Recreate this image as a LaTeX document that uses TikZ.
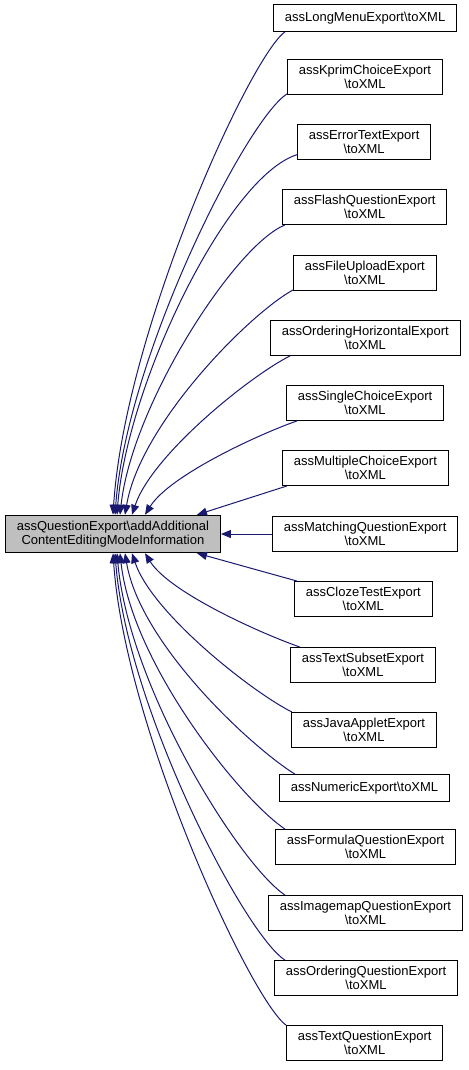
\documentclass[tikz,border=0pt]{standalone}
\usepackage{fontspec}
\setmainfont{Liberation Sans}
\usetikzlibrary{arrows.meta,calc}
\definecolor{edgeblue}{RGB}{25,25,112}
\definecolor{maingray}{RGB}{191,191,191}
\begin{document}
\begin{tikzpicture}[x=0.75pt,y=-0.75pt,
  fn/.style={draw=black,line width=0.75pt,fill=white,anchor=west,align=center,inner xsep=8.5pt,inner ysep=4.5pt,minimum height=20pt,font=\fontsize{9.75}{10}\selectfont},
  callee/.style={fn,fill=maingray},
  edge/.style={draw=edgeblue,line width=0.75pt,-{Triangle[length=7.5pt,width=6pt]}}]
\useasboundingbox (0,0) rectangle (468,1070);
\node[callee] (main) at (5,534) {assQuestionExport\textbackslash addAdditional\\ContentEditingModeInformation};
\node[fn] (longmenu) at (273,18) {assLongMenuExport\textbackslash toXML};
\node[fn] (kprim) at (287,77) {assKprimChoiceExport\\\textbackslash toXML};
\node[fn] (errortext) at (297,142) {assErrorTextExport\\\textbackslash toXML};
\node[fn] (flash) at (282,207) {assFlashQuestionExport\\\textbackslash toXML};
\node[fn] (fileupload) at (293,273) {assFileUploadExport\\\textbackslash toXML};
\node[fn] (orderh) at (270,338) {assOrderingHorizontalExport\\\textbackslash toXML};
\node[fn] (single) at (286,403) {assSingleChoiceExport\\\textbackslash toXML};
\node[fn] (multiple) at (282,468) {assMultipleChoiceExport\\\textbackslash toXML};
\node[fn] (matching) at (272,534) {assMatchingQuestionExport\\\textbackslash toXML};
\node[fn] (cloze) at (294,599) {assClozeTestExport\\\textbackslash toXML};
\node[fn] (textsubset) at (290,665) {assTextSubsetExport\\\textbackslash toXML};
\node[fn] (javaapplet) at (291,730) {assJavaAppletExport\\\textbackslash toXML};
\node[fn] (numeric) at (279,788) {assNumericExport\textbackslash toXML};
\node[fn] (formula) at (275,847) {assFormulaQuestionExport\\\textbackslash toXML};
\node[fn] (imagemap) at (268,913) {assImagemapQuestionExport\\\textbackslash toXML};
\node[fn] (orderq) at (274,978) {assOrderingQuestionExport\\\textbackslash toXML};
\node[fn] (textq) at (286,1043) {assTextQuestionExport\\\textbackslash toXML};
\draw[edge] ($(longmenu.south west)+(12,0)$) .. controls +(-35,25) and +(12,-184) .. ($(main.north west)+(108,0)$);
\draw[edge] ($(kprim.south west)+(0,-1)$) .. controls +(-40,25) and +(12,-160) .. ($(main.north west)+(110,0)$);
\draw[edge] ($(errortext.south west)+(0,-5)$) .. controls +(-70,22) and +(10,-130) .. ($(main.north west)+(112,0)$);
\draw[edge] ($(flash.south west)+(3,0)$) .. controls +(-50,20) and +(12,-110) .. ($(main.north west)+(115,0)$);
\draw[edge] ($(fileupload.south west)+(0,-1)$) .. controls +(-45,25) and +(15,-90) .. ($(main.north west)+(120,0)$);
\draw[edge] ($(orderh.south west)+(20,0)$) .. controls +(-40,20) and +(20,-60) .. ($(main.north west)+(127,0)$);
\draw[edge] ($(single.south west)+(11,0)$) .. controls +(-35,12) and +(25,-40) .. ($(main.north west)+(140,0)$);
\draw[edge] ($(multiple.south west)+(5,0)$) -- ($(main.north west)+(192,0)$);
\draw[edge] (matching.west) -- (main.east);
\draw[edge] ($(cloze.north west)+(3,0)$) -- ($(main.south west)+(192,0)$);
\draw[edge] ($(textsubset.north west)+(10,0)$) .. controls +(-35,-12) and +(25,40) .. ($(main.south west)+(140,0)$);
\draw[edge] ($(javaapplet.north west)+(1,0)$) .. controls +(-40,-20) and +(20,60) .. ($(main.south west)+(127,0)$);
\draw[edge] ($(numeric.north west)+(16,0)$) .. controls +(-45,-28) and +(15,90) .. ($(main.south west)+(120,0)$);
\draw[edge] ($(formula.north west)+(10,0)$) .. controls +(-45,-30) and +(12,110) .. ($(main.south west)+(115,0)$);
\draw[edge] ($(imagemap.north west)+(17,0)$) .. controls +(-45,-30) and +(12,135) .. ($(main.south west)+(112,0)$);
\draw[edge] ($(orderq.north west)+(11,0)$) .. controls +(-40,-25) and +(12,155) .. ($(main.south west)+(110,0)$);
\draw[edge] ($(textq.north west)+(0,0)$) .. controls +(-35,-25) and +(12,175) .. ($(main.south west)+(108,0)$);
\end{tikzpicture}
\end{document}
